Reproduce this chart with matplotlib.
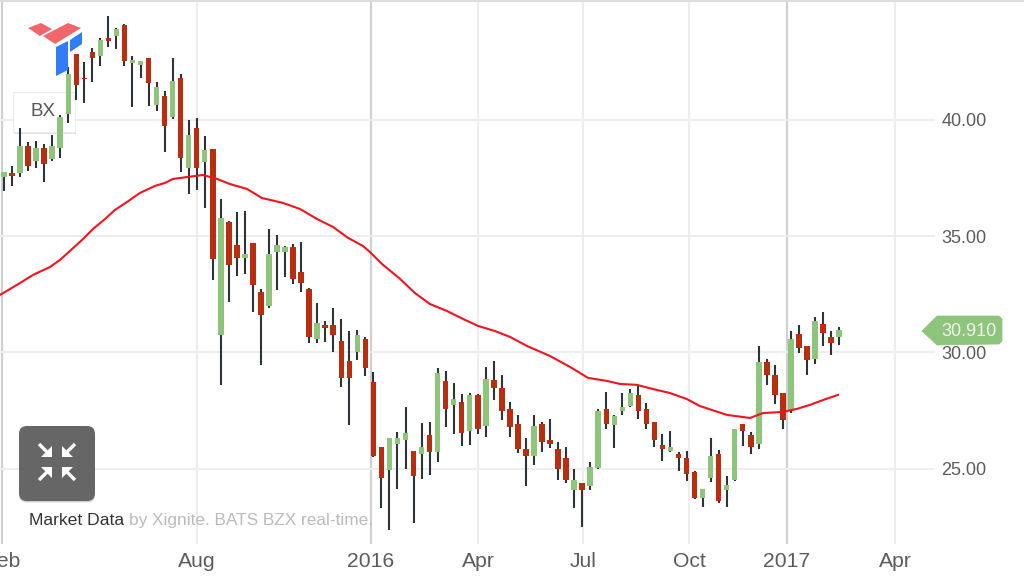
import matplotlib
matplotlib.use("Agg")
import matplotlib.pyplot as plt
from matplotlib.patches import Polygon, Rectangle, FancyBboxPatch
import matplotlib.patheffects as pe

W, H = 1024, 577
UP_COLOR, DOWN_COLOR, WICK_COLOR = "#8fc47c", "#b92d10", "#2e3338"

# Weekly candles, oldest first. Prices in USD.
highs = [37.75,38.00,39.64,39.04,39.08,38.95,39.34,40.19,42.25,42.81,42.47,43.07,43.50,44.44,43.93,44.10,42.73,42.51,42.64,41.61,41.22,42.64,41.95,39.98,40.06,39.29,38.73,
         36.59,35.65,36.03,36.07,34.70,32.73,35.30,35.04,34.57,34.66,34.74,32.77,32.13,31.35,31.91,31.44,30.92,30.97,30.67,29.16,
         25.95,26.33,26.59,27.66,25.77,26.97,27.02,29.34,29.21,28.69,28.22,28.26,28.22,29.38,29.64,29.03,27.88,27.32,26.33,27.32,27.02,27.15,26.16,25.95,25.00,24.40,25.30,
         27.58,28.31,27.32,28.26,28.43,28.56,27.83,27.02,26.50,26.63,25.73,25.77,24.91,24.14,26.33,25.82,24.70,26.72,26.93,26.59,
         30.28,29.72,29.46,28.26,30.92,31.18,30.28,31.52,31.74,30.92,31.09]
body_tops = [37.73,37.70,38.86,38.86,38.78,38.78,38.86,40.11,41.95,42.81,41.78,42.90,43.41,43.50,43.89,44.06,42.55,42.51,42.64,41.40,41.01,41.65,41.78,39.34,39.64,38.69,38.73,
             35.77,35.60,34.61,34.23,34.70,32.60,34.23,34.61,34.53,34.53,33.46,32.73,31.27,31.18,31.18,30.49,29.64,30.75,30.58,28.73,
             25.95,26.33,26.33,26.55,25.77,25.95,26.46,29.12,28.78,28.00,27.88,28.18,28.18,28.86,28.82,28.48,27.58,26.93,25.86,26.85,26.93,26.25,25.86,25.47,24.53,24.40,25.09,
             27.49,27.58,27.28,27.66,28.26,28.18,27.58,27.02,26.03,25.95,25.64,25.47,24.87,24.14,25.56,25.64,24.31,26.72,26.93,26.46,
             29.59,29.59,29.04,28.26,30.58,30.79,30.28,31.35,31.22,30.67,30.97]
body_bottoms = [37.53,37.57,37.70,38.00,38.22,38.09,38.31,38.78,40.24,41.48,41.72,42.64,42.73,43.37,43.58,42.51,42.43,42.34,41.57,40.62,39.72,40.11,38.35,37.92,37.92,38.18,34.01,
                30.75,33.76,34.06,34.06,32.90,31.61,32.00,34.31,34.31,33.16,32.98,30.67,30.58,31.05,30.75,28.91,28.91,30.02,29.34,25.56,
                24.61,24.96,26.07,26.25,24.70,25.64,25.73,25.73,27.58,27.75,26.55,26.63,26.72,26.85,28.48,27.49,26.80,25.86,25.56,25.56,26.16,26.07,25.00,24.53,24.10,24.10,24.27,
                25.04,26.93,26.89,27.49,27.70,27.49,26.93,26.25,25.86,25.77,25.47,24.79,23.76,23.76,24.61,23.63,24.10,24.53,26.63,25.95,
                26.07,29.04,28.18,27.10,27.53,30.19,29.68,29.72,30.84,30.41,30.67]
lows = [36.93,37.15,37.53,37.79,37.92,37.32,38.22,38.35,39.85,40.84,40.71,41.61,42.30,43.11,43.03,42.30,40.54,41.78,40.58,40.37,38.61,40.02,37.75,36.80,36.97,36.20,33.11,
        28.61,32.17,33.28,33.37,31.74,29.46,31.91,32.68,33.24,32.94,32.60,30.41,30.41,30.45,30.02,28.52,26.89,29.68,28.99,25.52,
        23.33,22.38,24.14,25.00,22.68,24.57,24.74,25.30,26.80,26.50,25.99,26.03,26.50,26.37,27.96,27.10,26.37,25.69,24.27,25.17,25.73,25.90,24.53,24.40,23.33,22.51,24.10,
        25.00,26.72,25.90,27.32,27.66,27.15,26.72,25.95,25.34,25.73,24.91,24.49,23.71,23.37,24.44,23.54,23.37,24.49,25.99,25.65,
        25.86,28.61,27.79,26.72,27.40,29.98,29.04,29.51,30.28,29.89,30.32]
up_weeks = [0,2,4,6,7,8,12,14,16,17,19,21,23,25,27,30,33,34,35,39,44,48,49,50,52,54,56,58,60,66,71,73,74,76,77,78,83,87,88,90,91,94,98,101,104]

# Moving average, read at these week positions
ma_weeks = [-0.5,1.99,3.61,5.73,6.97,8.47,9.84,11.08,12.58,13.82,15.32,16.94,18.80,20.05,21.05,22.79,24.78,26.53,28.14,30.26,32.13,33.13,34.75,36.86,38.98,40.97,42.84,44.71,45.58,47.07,49.32,51.18,53.05,55.17,57.16,59.03,61.15,63.01,65.13,67.99,70.49,72.73,75.09,76.71,78.83,80.82,82.94,85.05,86.67,88.17,90.04,92.9,94.52,97.01,98.75,100.37,102,103.86]
ma_values = [32.47,32.98,33.33,33.67,33.97,34.44,34.87,35.30,35.73,36.12,36.46,36.85,37.15,37.28,37.45,37.53,37.62,37.45,37.23,37.02,36.63,36.55,36.42,36.16,35.73,35.39,34.92,34.57,34.31,33.80,33.16,32.55,32.08,31.78,31.44,31.14,30.92,30.67,30.28,29.85,29.38,28.91,28.78,28.65,28.61,28.43,28.26,28.00,27.70,27.53,27.32,27.19,27.40,27.45,27.58,27.75,27.96,28.18]

y_ticks = [25, 30, 35, 40]
y_tick_labels = ["25.00", "30.00", "35.00", "40.00"]
x_tick_weeks = [-0.25, 24.03, 45.7, 59.03, 72.1, 85.3, 97.5, 110.96]
x_tick_labels = ["Feb", "Aug", "2016", "Apr", "Jul", "Oct", "2017", "Apr"]
year_ticks = ["2016", "2017", "Feb"]
last_price = "30.910"

plt.rcParams["font.family"] = ["Liberation Sans", "DejaVu Sans"]
fig = plt.figure(figsize=(W / 100, H / 100), dpi=100, facecolor="white")

ax = fig.add_axes([0, 1 - 544 / H, 935 / W, 544 / H], zorder=1)
ax.set_facecolor("white")
ax.set_xlim(-0.498, 115.94)
ax.set_ylim(21.78, 45.13)
for s in ax.spines.values():
    s.set_visible(False)
ax.set_axisbelow(True)

ax.yaxis.tick_right()
ax.set_yticks(y_ticks, y_tick_labels)
ax.set_xticks(x_tick_weeks, x_tick_labels)
ax.tick_params(axis="y", length=0, pad=4.5, labelsize=13, labelcolor="#5c5c5c")
ax.tick_params(axis="x", length=0, pad=5.5, labelsize=15.2, labelcolor="#5c5c5c")
ax.grid(True, color="#eeeeee", lw=1.5)
for line, lab in zip(ax.get_xgridlines(), x_tick_labels):
    if lab in year_ticks:
        line.set_color("#cfcfcf")

# overlay in pixel coordinates for furniture
top = fig.add_axes([0, 0, 1, 1], zorder=2)
top.set_xlim(0, W)
top.set_ylim(H, 0)
top.axis("off")
top.patch.set_alpha(0)
top.add_patch(Rectangle((0, 0), W, 2.2, facecolor="#dddddd", edgecolor="none"))

# ticker box, under the candles, over the grid
box = Rectangle((13, 92), 62, 40, transform=top.transData, facecolor="white",
                edgecolor="#ececec", lw=0.8, zorder=0.9,
                path_effects=[pe.SimplePatchShadow(offset=(1, -1.5), shadow_rgbFace="#999999", alpha=0.3), pe.Normal()])
ax.add_patch(box)
ax.text(43.5, 112, "BX", transform=top.transData, ha="center", va="center",
        fontsize=13.5, color="#555555", zorder=0.95)

# candles
weeks = list(range(len(highs)))
ax.vlines(weeks, lows, highs, color=WICK_COLOR, lw=1.5, zorder=2)
colors = [UP_COLOR if w in up_weeks else DOWN_COLOR for w in weeks]
heights = [max(t - b, 0.05) for t, b in zip(body_tops, body_bottoms)]
ax.bar(weeks, heights, bottom=body_bottoms, width=0.68, color=colors, zorder=3)

ax.plot(ma_weeks, ma_values, color="#f0141e", lw=1.5, zorder=4, solid_joinstyle="round")

# logo
for pts, c in [([(28, 28), (41, 23), (52, 29), (40, 36)], "#f0666b"),
               ([(43, 36), (68, 23), (81, 28), (55, 44)], "#f0666b"),
               ([(56, 47), (68, 41), (68, 70), (56, 76)], "#2f7dfb"),
               ([(70, 40), (82, 32), (82, 44), (70, 52)], "#2f7dfb")]:
    top.add_patch(Polygon(pts, closed=True, facecolor=c, edgecolor="none"))

# collapse button
top.add_patch(FancyBboxPatch((23, 430), 68, 67, boxstyle="round,pad=4,rounding_size=8",
                             facecolor="#666666", edgecolor="none",
                             path_effects=[pe.SimplePatchShadow(offset=(0, -1), shadow_rgbFace="#888888", alpha=0.4), pe.Normal()]))
cx, cy = 57, 462
for sx, sy in [(-1, -1), (1, -1), (-1, 1), (1, 1)]:
    tip = (cx + sx * 5, cy + sy * 5)
    top.add_patch(Polygon([tip, (tip[0], tip[1] + sy * 11), (tip[0] + sx * 11, tip[1])],
                          closed=True, facecolor="white", edgecolor="none"))
    top.plot([tip[0] + sx * 4, tip[0] + sx * 13], [tip[1] + sy * 4, tip[1] + sy * 13],
             color="white", lw=2.4, solid_capstyle="butt")

# attribution
top.text(29, 520.5, "Market Data", fontsize=12.6, color="#333333", va="center", ha="left")
top.text(129, 520.5, "by Xignite. BATS BZX real-time.", fontsize=12.4, color="#bbbbbb", va="center", ha="left")

# last price flag
top.add_patch(Polygon([(922, 331), (937, 316), (999, 316), (1002, 319), (1002, 341), (999, 344), (937, 345)],
                      closed=True, facecolor=UP_COLOR, edgecolor=UP_COLOR, lw=0.5, joinstyle="round"))
top.text(968.5, 331, last_price, fontsize=13, color="#eef6ea", ha="center", va="center")

fig.savefig("out.png", dpi=100, facecolor="white")
